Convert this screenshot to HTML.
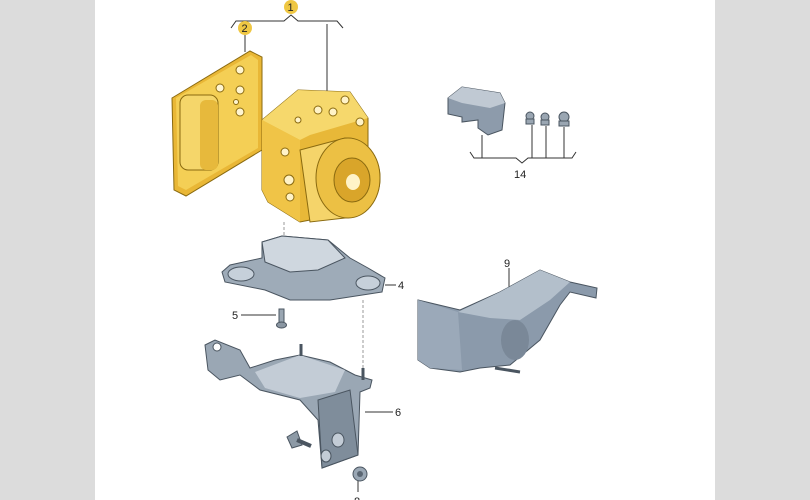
<!DOCTYPE html>
<html><head><meta charset="utf-8"><style>
html,body{margin:0;padding:0;width:810px;height:500px;overflow:hidden;background:#fff}
svg{display:block}
text{font-family:"Liberation Sans",sans-serif;font-size:11px;fill:#222}
</style></head><body>
<svg width="810" height="500" viewBox="0 0 810 500">
<rect x="0" y="0" width="95" height="500" fill="#dcdcdc"/>
<rect x="715" y="0" width="95" height="500" fill="#dcdcdc"/>

<!-- label 1 bracket -->
<polyline points="231,28 236,21 284,21 291,15 298,21 337,21 343,28" fill="none" stroke="#333" stroke-width="1"/>
<circle cx="291" cy="7" r="7" fill="#efc743"/><text x="287.5" y="11" font-size="10">1</text>
<circle cx="245" cy="28" r="7" fill="#efc743"/><text x="241.5" y="32" font-size="10">2</text>
<line x1="245" y1="35" x2="245" y2="52" stroke="#333"/>
<line x1="327" y1="24" x2="327" y2="92" stroke="#333"/>

<!-- part 2 plate -->
<polygon points="172,98 250,51 262,57 262,150 186,196 174,190" fill="#e9b736" stroke="#8a6a10" stroke-width="1"/>
<polygon points="176,98 251,55 258,60 258,148 186,190 178,186" fill="#f4cf55"/>
<rect x="180" y="95" width="38" height="75" rx="8" fill="#f5d66a" stroke="#8a6a10"/>
<rect x="200" y="100" width="18" height="70" rx="6" fill="#e7b93c"/>
<circle cx="240" cy="70" r="4" fill="#fff5d0" stroke="#8a6a10"/>
<circle cx="240" cy="90" r="4" fill="#fff5d0" stroke="#8a6a10"/>
<circle cx="240" cy="112" r="4" fill="#fff5d0" stroke="#8a6a10"/>
<circle cx="220" cy="88" r="4" fill="#fff5d0" stroke="#8a6a10"/>
<circle cx="236" cy="102" r="2.5" fill="#fff5d0" stroke="#8a6a10"/>

<!-- part 1 block -->
<polygon points="262,120 298,90 350,92 368,118 368,150 310,220 300,222 268,202 262,190" fill="#e8b838" stroke="#8a6a10"/>
<polygon points="262,120 298,90 350,92 368,118 310,135 300,140" fill="#f6d86c"/>
<polygon points="262,120 300,140 300,222 268,202 262,190" fill="#f0c447"/>
<path d="M300,150 L345,138 A35,40 0 0 1 345,218 L310,222 Z" fill="#f5d46a" stroke="#8a6a10"/>
<ellipse cx="348" cy="178" rx="32" ry="40" fill="#ecc044" stroke="#8a6a10"/>
<ellipse cx="352" cy="180" rx="18" ry="22" fill="#d9a52a" stroke="#8a6a10"/>
<ellipse cx="353" cy="182" rx="7" ry="8" fill="#fff3c8"/>
<circle cx="285" cy="152" r="4" fill="#fff3c8" stroke="#8a6a10"/>
<circle cx="289" cy="180" r="5" fill="#fff3c8" stroke="#8a6a10"/>
<circle cx="290" cy="197" r="4" fill="#fff3c8" stroke="#8a6a10"/>
<circle cx="318" cy="110" r="4" fill="#fff3c8" stroke="#8a6a10"/>
<circle cx="333" cy="112" r="4" fill="#fff3c8" stroke="#8a6a10"/>
<circle cx="345" cy="100" r="4" fill="#fff3c8" stroke="#8a6a10"/>
<circle cx="298" cy="120" r="3" fill="#fff3c8" stroke="#8a6a10"/>
<circle cx="360" cy="122" r="4" fill="#fff3c8" stroke="#8a6a10"/>

<!-- dashed guides -->
<line x1="284" y1="222" x2="284" y2="262" stroke="#999" stroke-dasharray="3,2"/>
<line x1="363" y1="300" x2="363" y2="368" stroke="#999" stroke-dasharray="3,2"/>

<!-- part 4 -->
<polygon points="222,272 230,265 262,258 262,242 282,236 328,240 350,258 368,268 385,278 382,292 330,300 290,300 265,290 225,282" fill="#9eabb8" stroke="#4a5560"/>
<polygon points="262,242 282,236 328,240 345,258 318,270 290,272 265,262" fill="#cfd7df" stroke="#4a5560"/>
<ellipse cx="241" cy="274" rx="13" ry="7" fill="#c6d0da" stroke="#4a5560"/>
<ellipse cx="368" cy="283" rx="12" ry="7" fill="#c6d0da" stroke="#4a5560"/>
<line x1="385" y1="285" x2="396" y2="285" stroke="#333"/><text x="398" y="289">4</text>

<!-- part 5 screw -->
<line x1="241" y1="315" x2="276" y2="315" stroke="#333"/><text x="232" y="319">5</text>
<rect x="279" y="309" width="5" height="14" fill="#9aa6b2" stroke="#4a5560"/>
<ellipse cx="281.5" cy="325" rx="5" ry="3" fill="#8a96a2" stroke="#4a5560"/>

<!-- part 6 bracket -->
<polygon points="205,345 215,340 240,350 250,368 275,360 300,355 330,362 355,375 372,380 370,388 360,392 358,455 322,468 318,420 300,400 260,390 240,375 220,380 208,370" fill="#9aa7b4" stroke="#4a5560"/>
<polygon points="255,372 300,355 345,370 335,392 300,398 265,388" fill="#c3ccd6"/>
<polygon points="318,400 350,390 358,455 322,468" fill="#7f8d9b" stroke="#4a5560"/>
<ellipse cx="338" cy="440" rx="6" ry="7" fill="#c3ccd6" stroke="#4a5560"/>
<ellipse cx="326" cy="456" rx="5" ry="6" fill="#c3ccd6" stroke="#4a5560"/>
<ellipse cx="217" cy="347" rx="4" ry="4" fill="#fff" stroke="#4a5560"/>
<line x1="301" y1="344" x2="301" y2="356" stroke="#4a5560" stroke-width="3"/>
<line x1="363" y1="368" x2="363" y2="380" stroke="#4a5560" stroke-width="3"/>
<line x1="365" y1="412" x2="393" y2="412" stroke="#333"/><text x="395" y="416">6</text>
<!-- bolt -->
<polygon points="287,437 297,431 302,445 292,448" fill="#8d9aa6" stroke="#4a5560"/>
<line x1="297" y1="440" x2="311" y2="446" stroke="#4a5560" stroke-width="4"/>
<!-- nut -->
<ellipse cx="360" cy="474" rx="7" ry="7" fill="#9aa7b4" stroke="#4a5560"/>
<circle cx="360" cy="474" r="3" fill="#5a6672"/>
<line x1="358" y1="481" x2="358" y2="492" stroke="#333"/><text x="354" y="505">8</text>

<!-- part 14 -->
<polygon points="448,98 462,87 500,93 505,103 502,130 488,135 478,128 478,120 462,122 462,117 448,114" fill="#8d9bab" stroke="#4a5560"/>
<polygon points="448,98 462,87 500,93 505,103 490,108 462,103" fill="#c0c9d3"/>
<line x1="482" y1="135" x2="482" y2="158" stroke="#333"/>
<g fill="#9aa6b2" stroke="#4a5560">
<ellipse cx="530" cy="116" rx="4" ry="4"/><rect x="526" y="119" width="8" height="5"/>
<ellipse cx="545" cy="117" rx="4" ry="4"/><rect x="541" y="120" width="8" height="5"/>
<ellipse cx="564" cy="117" rx="5" ry="5"/><rect x="559" y="121" width="10" height="5"/>
</g>
<line x1="532" y1="125" x2="532" y2="158" stroke="#333"/>
<line x1="546" y1="126" x2="546" y2="158" stroke="#333"/>
<line x1="564" y1="127" x2="564" y2="158" stroke="#333"/>
<polyline points="470,152 474,158 516,158 522,163 528,158 572,158 576,152" fill="none" stroke="#333"/>
<text x="514" y="178">14</text>

<!-- part 9 -->
<line x1="509" y1="268" x2="509" y2="290" stroke="#333"/><text x="504" y="267">9</text>
<polygon points="418,300 460,310 500,292 540,270 570,282 597,288 596,298 570,292 560,305 540,340 510,365 480,368 460,372 430,368 418,360" fill="#8b9aab" stroke="#4a5560"/>
<polygon points="458,312 500,292 540,270 570,282 550,300 520,320 490,318" fill="#b3bfcb"/>
<polygon points="418,300 458,312 462,370 430,368 418,360" fill="#9ba9b9"/>
<ellipse cx="515" cy="340" rx="14" ry="20" fill="#7a8898"/>
<line x1="495" y1="368" x2="520" y2="372" stroke="#4a5560" stroke-width="3"/>
</svg>
</body></html>
